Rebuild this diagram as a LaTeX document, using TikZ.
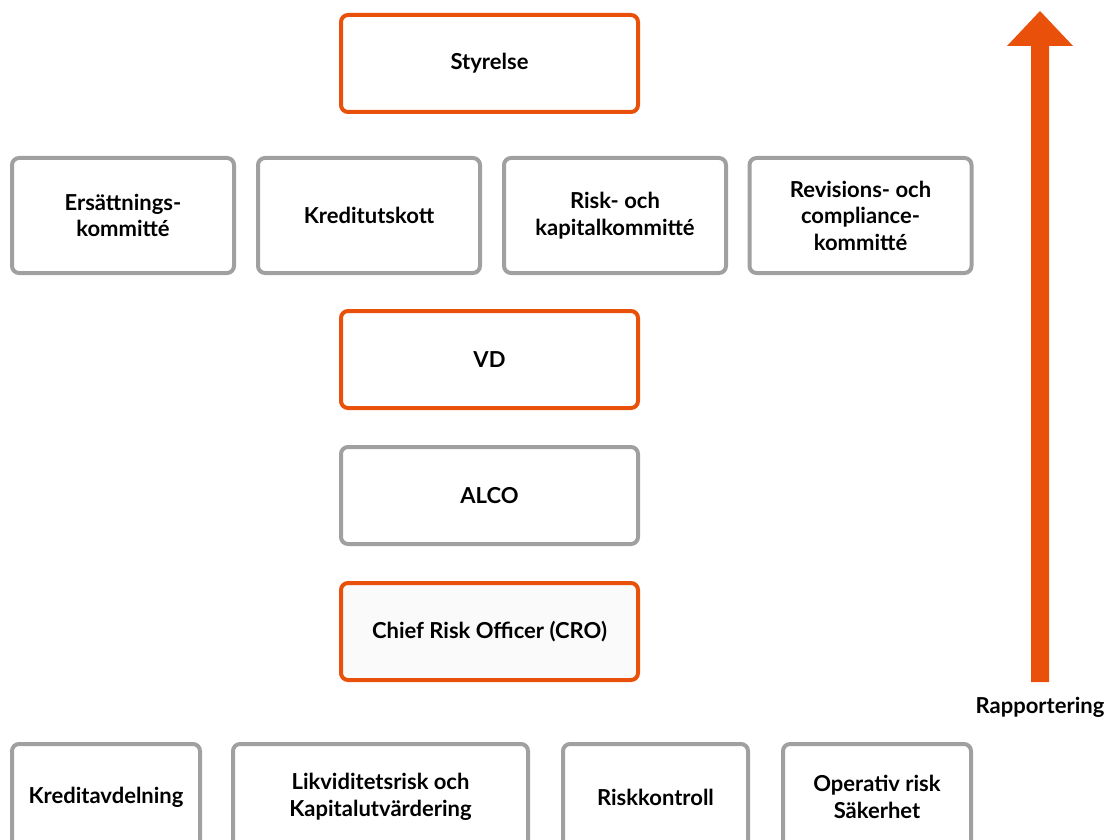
\documentclass[tikz,border=0pt]{standalone}
\usepackage{fontspec}
\setmainfont{Lato}[UprightFont=* Bold]
\definecolor{ora}{RGB}{233,80,10}
\definecolor{gry}{RGB}{160,160,160}
\definecolor{crofill}{RGB}{250,250,250}
\begin{document}
\begin{tikzpicture}[x=1pt,y=-1pt,
  box/.style={draw, line width=4pt, rounded corners=7pt, fill=white, align=center,
    font=\fontsize{22}{26.5}\selectfont, inner sep=0pt},
  obox/.style={box, draw=ora},
  gbox/.style={box, draw=gry}]
\useasboundingbox (0,0) rectangle (1117,840);
% top
\node[obox, minimum width=297pt, minimum height=97pt] (sty) at (489.5,63.5) {Styrelse};
% committees
\node[gbox, minimum width=222pt, minimum height=115pt] (ers) at (123,215.5) {Ersättnings-\\kommitté};
\node[gbox, minimum width=222pt, minimum height=115pt] (kre) at (369,215.5) {Kreditutskott};
\node[gbox, minimum width=222pt, minimum height=115pt] (ris) at (615,215.5) {Risk- och\\kapitalkommitté};
\node[gbox, minimum width=222pt, minimum height=115pt] (rev) at (860.5,215.5) {Revisions- och\\compliance-\\kommitté};
% VD, ALCO, CRO
\node[obox, minimum width=297pt, minimum height=97pt] (vd) at (489.5,359.5) {VD};
\node[gbox, minimum width=297pt, minimum height=97pt] (alco) at (489.5,495.5) {ALCO};
\node[obox, fill=crofill, minimum width=297pt, minimum height=97pt] (cro) at (489.5,631.5) {Chief Risk Officer (CRO)};
% bottom row
\node[gbox, minimum width=188pt, minimum height=106pt] (kav) at (106,797) {Kreditavdelning};
\node[gbox, minimum width=295pt, minimum height=106pt] (lik) at (380.5,797) {Likviditetsrisk och\\Kapitalutvärdering};
\node[gbox, minimum width=185pt, minimum height=106pt] (rk) at (655.5,797) {Riskkontroll};
\node[gbox, minimum width=188pt, minimum height=106pt] (op) at (877,797) {Operativ risk\\Säkerhet};
% arrow
\node[font=\fontsize{22}{26}\selectfont, inner sep=0pt] (rap) at (1040,707) {Rapportering};
\coordinate (atop) at (1040,11);
\fill[ora] (1031,682) -- (1049,682) -- (1049,46) -- (1073,46) -- (atop) -- (1007,46) -- (1031,46) -- cycle;
\end{tikzpicture}
\end{document}
